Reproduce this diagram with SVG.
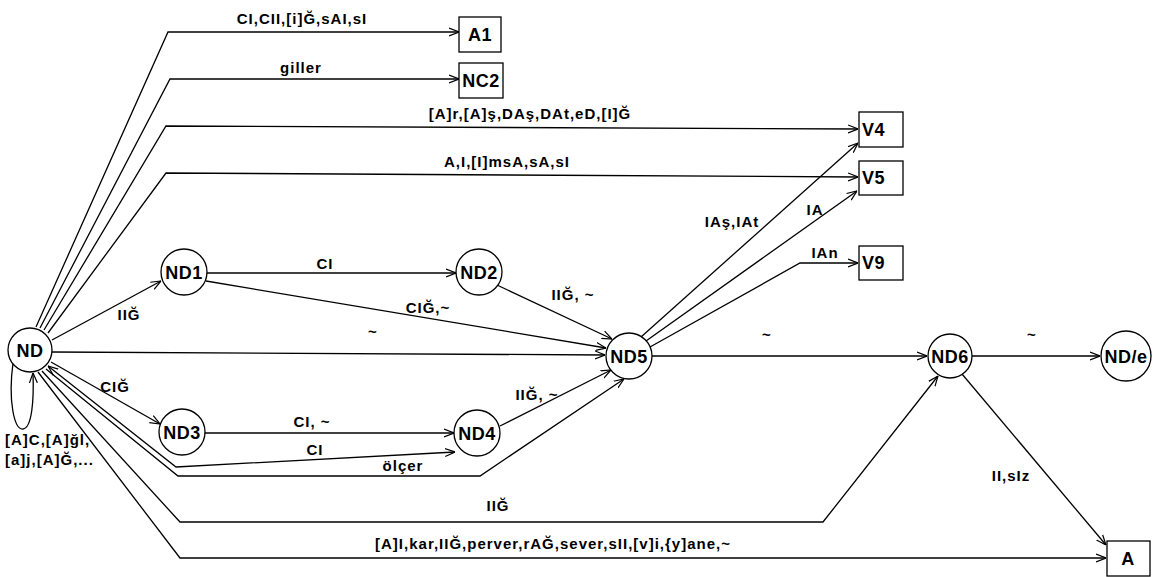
<svg xmlns="http://www.w3.org/2000/svg" width="1157" height="577" viewBox="0 0 1157 577">
<style>
.e{fill:none;stroke:#000;stroke-width:1.3}
.n{fill:#fff;stroke:#000;stroke-width:1.3}
.t{font-family:"Liberation Sans",Arial,sans-serif;font-weight:bold;font-size:15px;letter-spacing:1px;fill:#000}
.nt{font-family:"Liberation Sans",Arial,sans-serif;font-weight:bold;font-size:18px;letter-spacing:0.5px;fill:#000}
.c{text-anchor:middle}
</style>
<defs>
<marker id="ar" viewBox="0 0 10 10" refX="10" refY="5" markerWidth="10" markerHeight="10" markerUnits="userSpaceOnUse" orient="auto-start-reverse">
<path d="M0,1 L10,5 L0,9" fill="none" stroke="#000" stroke-width="1.2"/>
</marker>
</defs>
<rect width="1157" height="577" fill="#fff"/>
<g id="connectors">
<path class="e" d="M36,327 L168,32 L459,32" marker-end="url(#ar)"/>
<path class="e" d="M40,328 L170,79 L459,79" marker-end="url(#ar)"/>
<path class="e" d="M44,330 L166,126 L858,129" marker-end="url(#ar)"/>
<path class="e" d="M48,333 L166,173 L858,177" marker-end="url(#ar)"/>
<path class="e" d="M52,340 L161,281" marker-end="url(#ar)"/>
<path class="e" d="M52,352 L605,355" marker-end="url(#ar)"/>
<path class="e" d="M51,362 L160,424" marker-end="url(#ar)"/>
<path class="e" d="M48,366 L176,467 L455,452" marker-start="url(#ar)" marker-end="url(#ar)"/>
<path class="e" d="M46,369 L178,476 L480,476 L624,379" marker-end="url(#ar)"/>
<path class="e" d="M42,371 L180,522 L823,522 L938,376" marker-end="url(#ar)"/>
<path class="e" d="M38,372 L180,558 L1106,558" marker-end="url(#ar)"/>
<path class="e" d="M13,363 C8,400 14,430 23,429 C32,428 34,400 33,373" marker-end="url(#ar)"/>
<path class="e" d="M206,273 L456,273" marker-end="url(#ar)"/>
<path class="e" d="M206,281 L606,348" marker-end="url(#ar)"/>
<path class="e" d="M497,285 L612,339" marker-end="url(#ar)"/>
<path class="e" d="M204,433 L454,433" marker-end="url(#ar)"/>
<path class="e" d="M500,426 L611,370" marker-end="url(#ar)"/>
<path class="e" d="M641,337 L858,143" marker-end="url(#ar)"/>
<path class="e" d="M646,341 L857,191" marker-end="url(#ar)"/>
<path class="e" d="M650,347 L800,263 L858,263" marker-end="url(#ar)"/>
<path class="e" d="M652,356 L927,356" marker-end="url(#ar)"/>
<path class="e" d="M972,356 L1100,356" marker-end="url(#ar)"/>
<path class="e" d="M962,374 L1106,545" marker-end="url(#ar)"/>
</g>
<g id="edge-labels">
<text class="t c" x="302" y="24">CI,CII,[i]Ğ,sAI,sI</text>
<text class="t c" x="301" y="73">giller</text>
<text class="t c" x="530" y="119">[A]r,[A]ş,DAş,DAt,eD,[I]Ğ</text>
<text class="t c" x="507" y="167">A,I,[I]msA,sA,sI</text>
<text class="t c" x="732" y="227">IAş,IAt</text>
<text class="t c" x="815" y="215">IA</text>
<text class="t c" x="825" y="258">IAn</text>
<text class="t c" x="129" y="320">IIĞ</text>
<text class="t c" x="325" y="269">CI</text>
<text class="t c" x="428" y="313">CIĞ,~</text>
<text class="t c" x="573" y="300">IIĞ, ~</text>
<text class="t c" x="373" y="337">~</text>
<text class="t c" x="767" y="340">~</text>
<text class="t c" x="1032" y="340">~</text>
<text class="t c" x="115" y="392">CIĞ</text>
<text class="t c" x="312" y="427">CI, ~</text>
<text class="t c" x="315" y="455">CI</text>
<text class="t c" x="403" y="471">ölçer</text>
<text class="t c" x="537" y="400">IIĞ, ~</text>
<text class="t" x="5" y="445">[A]C,[A]ğl,</text>
<text class="t" x="5" y="465">[a]j,[A]Ğ,...</text>
<text class="t c" x="498" y="511">IIĞ</text>
<text class="t c" x="553" y="549">[A]I,kar,IIĞ,perver,rAĞ,sever,sII,[v]i,{y]ane,~</text>
<text class="t c" x="1011" y="481">II,sIz</text>
</g>
<g id="ND"><circle class="n" cx="30" cy="350" r="22"/><text class="nt c" x="30" y="357">ND</text></g>
<g id="ND1"><circle class="n" cx="184" cy="272" r="23"/><text class="nt c" x="184" y="279">ND1</text></g>
<g id="ND2"><circle class="n" cx="479" cy="272" r="23"/><text class="nt c" x="479" y="279">ND2</text></g>
<g id="ND3"><circle class="n" cx="182" cy="432" r="23"/><text class="nt c" x="182" y="439">ND3</text></g>
<g id="ND4"><circle class="n" cx="477" cy="433" r="23"/><text class="nt c" x="477" y="440">ND4</text></g>
<g id="ND5"><circle class="n" cx="629" cy="356" r="23"/><text class="nt c" x="629" y="363">ND5</text></g>
<g id="ND6"><circle class="n" cx="950" cy="356" r="22"/><text class="nt c" x="950" y="363">ND6</text></g>
<g id="NDe"><circle class="n" cx="1126" cy="356" r="25"/><text class="nt c" x="1126" y="363">ND/e</text></g>
<g id="A1"><rect class="n" x="459" y="17" width="42" height="35"/><text class="nt c" x="480" y="41">A1</text></g>
<g id="NC2"><rect class="n" x="459" y="63" width="44" height="35"/><text class="nt c" x="481" y="87">NC2</text></g>
<g id="V4"><rect class="n" x="859" y="112" width="44" height="35"/><text class="nt" x="862" y="136">V4</text></g>
<g id="V5"><rect class="n" x="859" y="161" width="44" height="34"/><text class="nt" x="862" y="184">V5</text></g>
<g id="V9"><rect class="n" x="859" y="246" width="44" height="34"/><text class="nt" x="862" y="269">V9</text></g>
<g id="A"><rect class="n" x="1107" y="541" width="43" height="35"/><text class="nt c" x="1128" y="565">A</text></g>
</svg>
